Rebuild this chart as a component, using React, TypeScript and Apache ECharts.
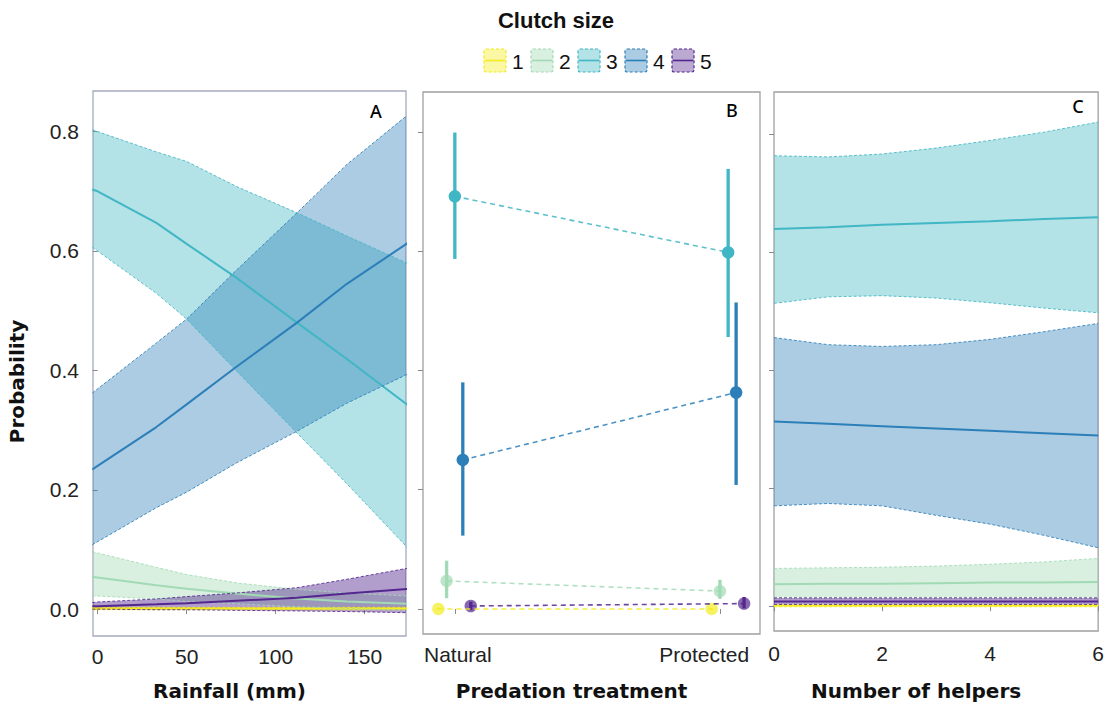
import React, { useEffect, useRef } from "react";
import * as echarts from "echarts";

// Clutch size groups and their colours
const clutchSizes = ["1", "2", "3", "4", "5"];
const clutchColors = ["#f3ec1e", "#a1dab4", "#41b6c4", "#2c7fb8", "#54278f"];
const bandOpacity = [0.32, 0.4, 0.4, 0.4, 0.45];

// Panel A: probability vs rainfall (mm)
const rainfall = [-3, 0, 33, 50, 78, 112, 140, 175];
const rainMean = [
  [0.001, 0.001, 0.001, 0.001, 0.001, 0.001, 0.001, 0.001],
  [0.054, 0.053, 0.04, 0.034, 0.026, 0.018, 0.013, 0.009],
  [0.703, 0.7, 0.647, 0.612, 0.555, 0.48, 0.419, 0.34],
  [0.234, 0.24, 0.305, 0.343, 0.406, 0.48, 0.545, 0.615],
  [0.005, 0.005, 0.008, 0.01, 0.014, 0.019, 0.026, 0.034],
];
const rainUpper = [
  [0.003, 0.003, 0.003, 0.003, 0.003, 0.003, 0.003, 0.003],
  [0.096, 0.094, 0.07, 0.058, 0.044, 0.033, 0.027, 0.022],
  [0.803, 0.8, 0.766, 0.75, 0.708, 0.664, 0.625, 0.578],
  [0.362, 0.369, 0.446, 0.486, 0.568, 0.664, 0.745, 0.83],
  [0.011, 0.012, 0.017, 0.021, 0.027, 0.036, 0.05, 0.069],
];
const rainLower = [
  [-0.001, -0.001, -0.001, -0.001, -0.001, -0.001, -0.001, -0.001],
  [0.022, 0.022, 0.017, 0.013, 0.009, 0.004, 0.001, -0.002],
  [0.606, 0.6, 0.529, 0.486, 0.399, 0.295, 0.21, 0.1],
  [0.108, 0.113, 0.17, 0.196, 0.245, 0.298, 0.345, 0.395],
  [0.0, 0.0, -0.001, -0.001, -0.002, -0.003, -0.004, -0.006],
];
const rainTicks = [0, 50, 100, 150];

// Panel B: probability by predation treatment
const treatments = ["Natural", "Protected"];
const treatmentTicks = [1, 2];
const treatmentPos = [1, 2.03];
const dodge = [-0.062, -0.031, 0, 0.03, 0.06];
const predMean = [
  [0.0, 0.0],
  [0.047, 0.03],
  [0.692, 0.598],
  [0.25, 0.363],
  [0.005, 0.009],
];
const predLower = [
  [-0.001, -0.001],
  [0.018, 0.017],
  [0.587, 0.456],
  [0.123, 0.208],
  [-0.002, 0.001],
];
const predUpper = [
  [0.001, 0.001],
  [0.081, 0.049],
  [0.799, 0.738],
  [0.38, 0.514],
  [0.012, 0.02],
];

// Panel C: probability vs number of helpers
const helpers = [0, 1, 2, 3, 4, 5, 6];
const helpMean = [
  [0.001, 0.001, 0.001, 0.001, 0.001, 0.001, 0.001],
  [0.037, 0.038, 0.038, 0.039, 0.04, 0.04, 0.041],
  [0.639, 0.642, 0.646, 0.649, 0.652, 0.656, 0.659],
  [0.313, 0.309, 0.305, 0.301, 0.297, 0.293, 0.289],
  [0.008, 0.008, 0.008, 0.008, 0.008, 0.008, 0.008],
];
const helpUpper = [
  [0.002, 0.002, 0.002, 0.002, 0.002, 0.002, 0.002],
  [0.064, 0.065, 0.066, 0.068, 0.071, 0.075, 0.081],
  [0.763, 0.761, 0.766, 0.776, 0.789, 0.803, 0.82],
  [0.455, 0.443, 0.44, 0.443, 0.452, 0.465, 0.479],
  [0.014, 0.014, 0.014, 0.014, 0.014, 0.014, 0.014],
];
const helpLower = [
  [-0.001, -0.001, -0.001, -0.001, -0.001, -0.001, -0.001],
  [0.015, 0.015, 0.015, 0.015, 0.015, 0.015, 0.015],
  [0.513, 0.524, 0.526, 0.522, 0.514, 0.505, 0.497],
  [0.17, 0.174, 0.17, 0.154, 0.139, 0.12, 0.099],
  [0.003, 0.003, 0.003, 0.003, 0.003, 0.003, 0.003],
];

const probTicks = [0, 0.2, 0.4, 0.6, 0.8];

const LABEL_FONT = '"Liberation Sans", Arial, sans-serif';
const TITLE_FONT = '"DejaVu Sans", Verdana, sans-serif';
const LETTER_FONT = '"Noto Sans", "Open Sans", sans-serif';

function rgba(hex: string, a: number) {
  const n = parseInt(hex.slice(1), 16);
  return `rgba(${(n >> 16) & 255},${(n >> 8) & 255},${n & 255},${a})`;
}

// Ribbon fills, dashed ribbon edges and mean curves for one panel
function ribbonSeries(xs: number[], lower: number[][], mean: number[][], upper: number[][], axis: number) {
  const fills: any[] = [];
  const lines: any[] = [];
  clutchSizes.forEach((name, k) => {
    const color = clutchColors[k];
    fills.push({
      type: "custom",
      name,
      xAxisIndex: axis,
      yAxisIndex: axis,
      clip: true,
      silent: true,
      data: [[xs[0], lower[k][0]]],
      renderItem: (_p: any, api: any) => {
        const top = xs.map((x, i) => api.coord([x, upper[k][i]]));
        const bottom = xs.map((x, i) => api.coord([x, lower[k][i]])).reverse();
        return {
          type: "polygon",
          shape: { points: top.concat(bottom) },
          style: { fill: rgba(color, bandOpacity[k]) },
        };
      },
    });
    [upper[k], lower[k]].forEach((edge) => {
      lines.push({
        type: "line",
        xAxisIndex: axis,
        yAxisIndex: axis,
        showSymbol: false,
        silent: true,
        data: xs.map((x, i) => [x, edge[i]]),
        lineStyle: { color: rgba(color, 0.85), width: 1, type: [3, 2] },
      });
    });
    lines.push({
      type: "line",
      xAxisIndex: axis,
      yAxisIndex: axis,
      showSymbol: false,
      silent: true,
      data: xs.map((x, i) => [x, mean[k][i]]),
      lineStyle: { color, width: 2 },
    });
  });
  return fills.concat(lines);
}

// Dashed connectors, error bars and points for the treatment panel
function treatmentSeries(axis: number) {
  const connectors: any[] = [];
  const bars: any[] = [];
  const points: any[] = [];
  clutchSizes.forEach((name, k) => {
    const color = clutchColors[k];
    const xs = treatmentPos.map((p) => p + dodge[k]);
    connectors.push({
      type: "line",
      xAxisIndex: axis,
      yAxisIndex: axis,
      showSymbol: false,
      silent: true,
      data: xs.map((x, j) => [x, predMean[k][j]]),
      lineStyle: { color: rgba(color, 0.85), width: 1.6, type: [5, 4] },
    });
    bars.push({
      type: "custom",
      xAxisIndex: axis,
      yAxisIndex: axis,
      silent: true,
      data: xs.map((x, j) => [x, predLower[k][j], predUpper[k][j]]),
      renderItem: (_p: any, api: any) => {
        const a = api.coord([api.value(0), api.value(1)]);
        const b = api.coord([api.value(0), api.value(2)]);
        return {
          type: "line",
          shape: { x1: a[0], y1: a[1], x2: b[0], y2: b[1] },
          style: { stroke: color, lineWidth: 3.3 },
        };
      },
    });
    points.push({
      type: "scatter",
      xAxisIndex: axis,
      yAxisIndex: axis,
      silent: true,
      symbolSize: 12.5,
      data: xs.map((x, j) => [x, predMean[k][j]]),
      itemStyle: { color, opacity: k === 2 || k === 3 ? 1 : 0.7 },
    });
  });
  return connectors.concat(bars, points);
}

const tickStyle = { show: true, inside: false, length: 5, lineStyle: { color: "#8a8a8a", width: 1 } };
const nameStyle = { fontFamily: TITLE_FONT, fontWeight: "bold", fontSize: 20, color: "#111", padding: [0, 40, 0, 0] };

function buildOption() {
  const grids = [
    { left: 93, top: 91, width: 313, height: 546, borderColor: "#a6aabd" },
    { left: 423, top: 92, width: 337, height: 545, borderColor: "#a0a0a0" },
    { left: 774, top: 92, width: 327, height: 540, borderColor: "#a0a0a0" },
  ].map((g) => ({ ...g, show: true, borderWidth: 1.3, backgroundColor: "transparent", containLabel: false }));

  const labelStyle = { fontFamily: LABEL_FONT, fontSize: 21, color: "#222" };

  const xAxis = [
    {
      type: "value",
      gridIndex: 0,
      min: -2.6,
      max: 173.2,
      name: "Rainfall (mm)",
      nameLocation: "middle",
      nameGap: 45,
      nameTextStyle: nameStyle,
      axisLine: { show: false },
      axisTick: { ...tickStyle, customValues: rainTicks },
      axisLabel: { ...labelStyle, margin: 10, customValues: rainTicks },
      splitLine: { show: false },
    },
    {
      type: "value",
      gridIndex: 1,
      min: 0.88,
      max: 2.15,
      name: "Predation treatment",
      nameLocation: "middle",
      nameGap: 47,
      nameTextStyle: nameStyle,
      axisLine: { show: false },
      axisTick: { ...tickStyle, customValues: treatmentTicks },
      axisLabel: {
        ...labelStyle,
        margin: 10,
        customValues: treatmentTicks,
        formatter: (v: number) => {
          const i = treatmentTicks.indexOf(v);
          return `{t${i}|${treatments[i]}}`;
        },
        rich: {
          t0: { ...labelStyle, padding: [0, 0, 0, 6] },
          t1: { ...labelStyle, padding: [0, 32, 0, 0] },
        },
      },
      splitLine: { show: false },
    },
    {
      type: "value",
      gridIndex: 2,
      min: 0,
      max: 6,
      interval: 2,
      name: "Number of helpers",
      nameLocation: "middle",
      nameGap: 50,
      nameTextStyle: nameStyle,
      axisLine: { show: false },
      axisTick: tickStyle,
      axisLabel: { ...labelStyle, margin: 12 },
      splitLine: { show: false },
    },
  ];

  const yRanges = [
    [-0.045, 0.868],
    [-0.042, 0.867],
    [-0.042, 0.871],
  ];
  const yAxis = yRanges.map((r, i) => ({
    type: "value",
    gridIndex: i,
    min: r[0],
    max: r[1],
    name: i === 0 ? "Probability" : "",
    nameLocation: "middle",
    nameGap: 66,
    nameTextStyle: { ...nameStyle, padding: [0, 36, 0, 0] },
    axisLine: { show: false },
    axisTick: { ...tickStyle, customValues: probTicks },
    axisLabel: {
      ...labelStyle,
      show: i === 0,
      margin: 14,
      customValues: probTicks,
      formatter: (v: number) => v.toFixed(1),
    },
    splitLine: { show: false },
  }));

  const series = [
    ...ribbonSeries(rainfall, rainLower, rainMean, rainUpper, 0),
    ...treatmentSeries(1),
    ...ribbonSeries(helpers, helpLower, helpMean, helpUpper, 2),
  ];

  const legendItems = clutchSizes.map((name, k) => ({
    type: "group",
    x: 484 + k * 47,
    y: 49,
    children: [
      {
        type: "rect",
        shape: { x: 0, y: 0, width: 22, height: 23, r: 2 },
        style: { fill: rgba(clutchColors[k], 0.4), stroke: clutchColors[k], lineWidth: 1.2, lineDash: [3, 2] },
      },
      {
        type: "line",
        shape: { x1: 1, y1: 11.5, x2: 21, y2: 11.5 },
        style: { stroke: clutchColors[k], lineWidth: 1.6 },
      },
      {
        type: "text",
        x: 28,
        y: 12.5,
        style: { text: name, font: `21px ${LABEL_FONT}`, fill: "#111", verticalAlign: "middle", align: "left" },
      },
    ],
  }));

  const panelLetters = [
    { t: "A", x: 376, y: 111 },
    { t: "B", x: 732, y: 110 },
    { t: "C", x: 1078, y: 106 },
  ].map((p) => ({
    type: "text",
    x: p.x,
    y: p.y,
    z: 50,
    style: { text: p.t, font: `500 18px ${LETTER_FONT}`, fill: "#000", align: "center", verticalAlign: "middle" },
  }));

  return {
    animation: false,
    backgroundColor: "#ffffff",
    grid: grids,
    xAxis,
    yAxis,
    series,
    graphic: [
      {
        type: "text",
        x: 556,
        y: 20,
        style: {
          text: "Clutch size",
          font: `bold 22px ${LABEL_FONT}`,
          fill: "#111",
          align: "center",
          verticalAlign: "middle",
        },
      },
      ...legendItems,
      ...panelLetters,
    ],
  };
}

export default function App() {
  const ref = useRef<HTMLDivElement>(null);
  useEffect(() => {
    if (!ref.current) return;
    const chart = echarts.init(ref.current, undefined, { renderer: "svg" });
    chart.setOption(buildOption() as any);
    return () => chart.dispose();
  }, []);
  return (
    <div
      ref={ref}
      style={{ position: "absolute", left: 0, top: 0, width: 1107, height: 706, background: "#fff" }}
    />
  );
}
